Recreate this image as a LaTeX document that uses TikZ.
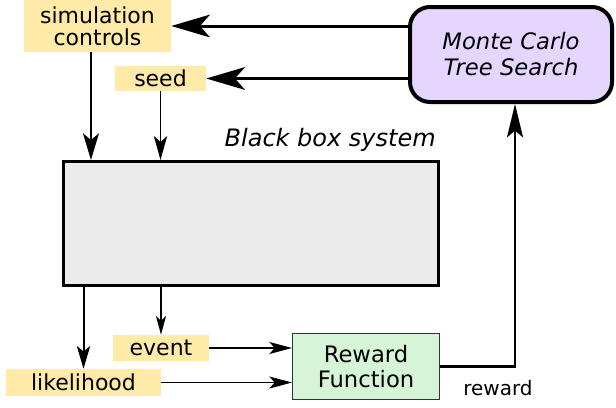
\documentclass[tikz,border=0pt]{standalone}
\usepackage{fontspec}
\setmainfont{DejaVu Sans}
\usetikzlibrary{arrows.meta}

\definecolor{tagyellow}{HTML}{FFEAA7}
\definecolor{mctspurple}{HTML}{E5D6FF}
\definecolor{boxgray}{HTML}{EBEBEB}
\definecolor{rewardgreen}{HTML}{D6F4D6}

\begin{document}
\begin{tikzpicture}[x = 0.75pt, y = -0.75pt,
  tag/.style = {fill = tagyellow, inner sep = 0pt, align = center, font = \fontsize{16.5}{16.5}\selectfont},
  bigarrow/.style = {-{Stealth[length = 29pt, width = 17pt, inset = 7.5pt]}, line width = 2.25pt},
  midarrow/.style = {-{Stealth[length = 20pt, width = 12pt, inset = 5pt]}, line width = 1.5pt},
  thinarrow/.style = {-{Stealth[length = 16pt, width = 9pt, inset = 4pt]}, line width = 1.25pt}]
\useasboundingbox (0,0) rectangle (616,407);

\node[tag, minimum width = 110.25pt, minimum height = 39pt] (1) at (97.5,26) {simulation\\controls};
\node[tag, minimum width = 68.25pt, minimum height = 18.75pt] (2) at (160.5,78.5) {seed};
\node[draw, line width = 3pt, rounded corners = 15pt, fill = mctspurple, minimum width = 151.5pt, minimum height = 71.25pt,
  align = center, font = \fontsize{17}{19.5}\selectfont\itshape] (3) at (511,54.5) {Monte Carlo\\Tree Search};
\node[draw, line width = 2.25pt, fill = boxgray, minimum width = 281.25pt, minimum height = 93pt] (4) at (251,223.5) {};
\node[anchor = east, inner sep = 0pt, font = \fontsize{18}{20}\selectfont\itshape] (5) at (436,140) {Black box system};
\node[tag, minimum width = 72pt, minimum height = 19.5pt] (6) at (161,348) {event};
\node[tag, minimum width = 116.25pt, minimum height = 20.25pt] (7) at (83.5,382.5) {likelihood};
\node[draw = black!80, line width = 1pt, fill = rewardgreen, minimum width = 110pt, minimum height = 49.5pt,
  align = center, font = \fontsize{17}{18.5}\selectfont] (8) at (366,366.5) {Reward\\Function};
\node[font = \fontsize{15}{16}\selectfont] (9) at (498,388) {reward};

\coordinate (10) at ([xshift = -4.9pt]1.south);
\coordinate (11) at ([xshift = 3pt]3.south);
\draw[bigarrow] (1.east -| 3.west) -- (1.east);
\draw[bigarrow] (2.east -| 3.west) -- (2.east);
\draw[midarrow] (10) -- (10 |- 4.north);
\draw[thinarrow, -{Stealth[length = 18pt, width = 10pt, inset = 4.5pt]}] (2.south) -- (2.south |- 4.north);
\draw[midarrow, -{Stealth[length = 17pt, width = 10pt, inset = 4pt]}] (7.north |- 4.south) -- (7.north);
\draw[thinarrow, -{Stealth[length = 14pt, width = 7.5pt, inset = 3.5pt]}] (6.north |- 4.south) -- (6.north);
\draw[thinarrow, -{Stealth[length = 17pt, width = 9pt, inset = 4pt]}] (6.east) -- (6.east -| 8.west);
\draw[thinarrow, -{Stealth[length = 17pt, width = 9pt, inset = 4pt]}] (7.east) -- (7.east -| 8.west);
\draw[bigarrow, line width = 1.8pt, -{Stealth[length = 25pt, width = 12pt, inset = 5pt]}] (8.east) -| (11);
\end{tikzpicture}
\end{document}
